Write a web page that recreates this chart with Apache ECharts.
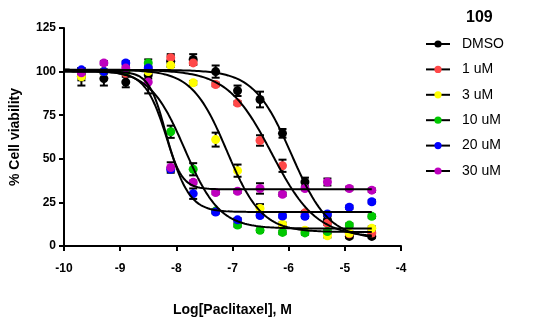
<!DOCTYPE html>
<html><head><meta charset="utf-8">
<script src="https://cdn.jsdelivr.net/npm/echarts@6/dist/echarts.min.js"></script>
<style>html,body{margin:0;padding:0;background:#fff}#c{width:534px;height:322px}</style>
</head><body><div id="c"></div>
<script>
// Log10 molar concentrations of Paclitaxel (x positions of points)
const logConc = [-9.69,-9.29,-8.90,-8.50,-8.10,-7.70,-7.30,-6.91,-6.51,-6.11,-5.71,-5.31,-4.92,-4.52];
const seriesNames = ['DMSO','1 uM','3 uM','10 uM','20 uM','30 uM'];
const colors = ['#000000','#FF4848','#FFFF00','#00C800','#0000FF','#BE00BE'];

// mean % cell viability
const vDMSO = [97, 96, 94, 98, 106, 107, 100, 89, 84, 64.6, 36.7, 15, 5.5, 5.5];
const v1uM  = [100, 100, 99, 101, 108, 105, 92.6, 82, 60.5, 46, 19, 13, 7, 7.4];
const v3uM  = [97, 100, 100, 100, 103.6, 93.6, 61, 43.2, 21.5, 12.5, 9, 5.9, 7.4, 10.2];
const v10uM = [100, 100, 100, 105, 65.5, 44, 20, 12, 9, 7.8, 7.5, 8.3, 12, 17];
const v20uM = [101, 100, 105, 102, 44, 30, 19.5, 15, 17.5, 17.2, 17, 18.4, 22.2, 25.4];
const v30uM = [99.3, 105, 102, 94, 45, 36.5, 30.7, 31.4, 33, 29.7, 33, 36.7, 33, 32];

// error (SD) of each point
const eDMSO = [5, 4, 3, 2, 3, 3, 3.5, 3, 4.5, 2.5, 2.5, 2, 1, 1];
const e1uM  = [1, 1, 1, 1, 2, 1, 1, 1, 3, 3.5, 1, 1, 1, 1];
const e3uM  = [2, 1, 1, 1, 1, 1, 4, 3.5, 2.5, 1, 1, 1, 1, 1];
const e10uM = [1, 1, 1, 2, 3.5, 3.5, 1, 1, 1, 1, 1, 1, 1, 1];
const e20uM = [1, 1, 1, 1, 1, 3, 1, 1, 1, 1, 1, 1, 1, 1];
const e30uM = [1, 1, 1, 6.5, 3, 1, 1, 1, 3, 1, 1, 2, 1, 1];

// four-parameter logistic fit parameters
const fitTop     = [101, 101, 101, 101, 100, 100];
const fitBottom  = [4, 5, 8, 10, 19.5, 32.5];
const fitLogIC50 = [-5.95, -6.3, -7.1, -7.85, -8.15, -8.2];
const fitHill    = [1.3, 1.1, 1.4, 1.4, 2.2, 3];
const curveRange = [-10, -4.52];

const xTicks = [-10, -9, -8, -7, -6, -5, -4];
const yTicks = [0, 25, 50, 75, 100, 125];

const values = [vDMSO, v1uM, v3uM, v10uM, v20uM, v30uM];
const errors = [eDMSO, e1uM, e3uM, e10uM, e20uM, e30uM];

function curve(i){
  const pts = [];
  for (let x = curveRange[0]; x <= curveRange[1] + 1e-9; x += 0.02){
    const y = fitBottom[i] + (fitTop[i] - fitBottom[i]) / (1 + Math.pow(10, fitHill[i] * (x - fitLogIC50[i])));
    pts.push([x, y]);
  }
  return pts;
}

const FONT = 'Liberation Sans, Arial, Helvetica, sans-serif';
const series = [];
// curves first (legend icons taken from them)
seriesNames.forEach((n, i) => {
  series.push({
    name: n, type: 'line', data: curve(i), showSymbol: false, symbol: 'circle', symbolSize: 9,
    smooth: false, itemStyle: {color: colors[i]}, lineStyle: {color: '#000', width: 2},
    z: 5, silent: true, animation: false
  });
});
seriesNames.forEach((n, i) => {
  series.push({
    name: n, type: 'custom', z: 2, animation: false, silent: true,
    data: logConc.map((x, k) => [x, values[i][k], errors[i][k]]),
    renderItem: function(params, api){
      const x = api.value(0), y = api.value(1), e = api.value(2);
      const t = api.coord([x, y + e]), b = api.coord([x, y - e]);
      const hw = 4, st = {stroke: '#000', lineWidth: 2};
      return {type: 'group', children: [
        {type: 'line', shape: {x1: t[0], y1: t[1], x2: b[0], y2: b[1]}, style: st},
        {type: 'line', shape: {x1: t[0] - hw, y1: t[1], x2: t[0] + hw, y2: t[1]}, style: st},
        {type: 'line', shape: {x1: b[0] - hw, y1: b[1], x2: b[0] + hw, y2: b[1]}, style: st}
      ]};
    }
  });
  series.push({
    name: n, type: 'scatter', z: 3, animation: false,
    data: logConc.map((x, k) => [x, values[i][k]]),
    symbol: 'circle', symbolSize: 9, itemStyle: {color: colors[i], opacity: 1}
  });
});

const chart = echarts.init(document.getElementById('c'), null, {renderer: 'canvas'});
chart.setOption({
  animation: false,
  backgroundColor: '#fff',
  title: {text: '109', left: 461, top: 5, textStyle: {fontFamily: FONT, fontSize: 16, fontWeight: 'bold', color: '#000'}},
  legend: {
    orient: 'vertical', left: 420, top: 32, itemWidth: 24, itemHeight: 9, itemGap: 11.4,
    data: seriesNames, selectedMode: false,
    textStyle: {fontFamily: FONT, fontSize: 14, color: '#000', padding: [0, 0, 0, 7]}
  },
  grid: {left: 64, right: 133, top: 28, bottom: 74, containLabel: false},
  xAxis: {
    type: 'value', min: xTicks[0], max: xTicks[xTicks.length - 1], interval: 1,
    name: 'Log[Paclitaxel], M', nameLocation: 'middle', nameGap: 57,
    nameTextStyle: {fontFamily: FONT, fontSize: 14, fontWeight: 'bold', color: '#000'},
    axisLine: {onZero: false, lineStyle: {color: '#000', width: 2}},
    axisTick: {show: true, length: 5, lineStyle: {color: '#000', width: 2}},
    axisLabel: {fontFamily: FONT, fontSize: 12, fontWeight: 'bold', color: '#000', margin: 17},
    splitLine: {show: false}
  },
  yAxis: {
    type: 'value', min: yTicks[0], max: yTicks[yTicks.length - 1], interval: 25,
    name: '% Cell viability', nameLocation: 'middle', nameGap: 42, nameRotate: 90,
    nameTextStyle: {fontFamily: FONT, fontSize: 14, fontWeight: 'bold', color: '#000'},
    axisLine: {show: true, lineStyle: {color: '#000', width: 2}},
    axisTick: {show: true, length: 5, lineStyle: {color: '#000', width: 2}},
    axisLabel: {fontFamily: FONT, fontSize: 12, fontWeight: 'bold', color: '#000', margin: 8},
    splitLine: {show: false}
  },
  series: series
});
</script></body></html>
